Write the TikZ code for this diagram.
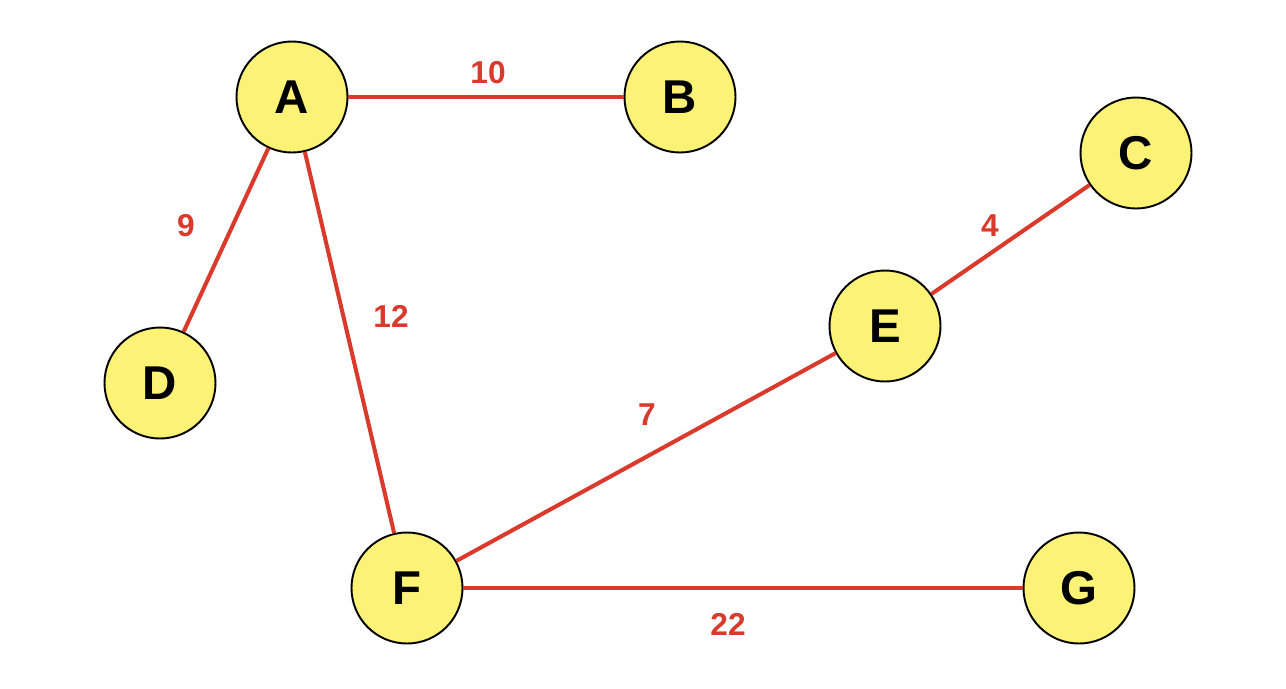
\documentclass[tikz,border=0pt]{standalone}
\usepackage{fontspec}
\setmainfont{Liberation Sans}
\usetikzlibrary{positioning}
\definecolor{vyellow}{HTML}{FCF275}
\definecolor{ered}{HTML}{D93A2B}

\begin{document}
\begin{tikzpicture}[
      vert/.style={circle,draw,line width=1.1pt,fill=vyellow,minimum size=2.22cm,inner sep=0pt,font=\fontsize{27}{30}\selectfont\bfseries},
      edge/.style={ered,line width=2.3pt},
      wt/.style={text=ered,font=\fontsize{18}{20}\selectfont\bfseries}
    ]
      \useasboundingbox (0,0) rectangle (25.72,-13.76);
      \node[vert] (A) at (5.84,-1.94) {A};
      \node[vert] (B) at (13.60,-1.94) {B};
      \node[vert] (C) at (22.72,-3.06) {C};
      \node[vert] (D) at (3.20,-7.66) {D};
      \node[vert] (E) at (17.70,-6.52) {E};
      \node[vert] (F) at (8.14,-11.76) {F};
      \node[vert] (G) at (21.58,-11.76) {G};
      \draw[edge] (A) -- (B);
      \draw[edge] (A) -- (D);
      \draw[edge] (A) -- (F);
      \draw[edge] (C) -- (E);
      \draw[edge] (E) -- (F);
      \draw[edge] (F) -- (G);
      \node[wt] (wab) at (9.76,-1.46) {10};
      \node[wt] (wad) at (3.72,-4.52) {9};
      \node[wt] (waf) at (7.82,-6.32) {12};
      \node[wt] (wce) at (19.80,-4.52) {4};
      \node[wt] (wef) at (12.94,-8.30) {7};
      \node[wt] (wfg) at (14.56,-12.48) {22};
    \end{tikzpicture}
\end{document}
